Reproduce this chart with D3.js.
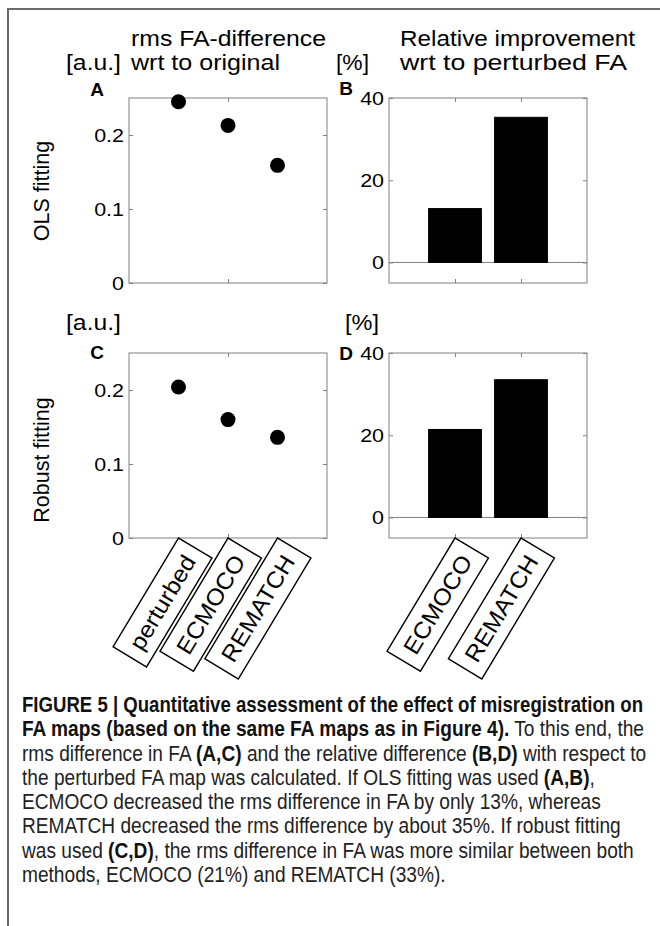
<!DOCTYPE html>
<html><head><meta charset="utf-8">
<script src="https://cdn.jsdelivr.net/npm/d3@7"></script>
<style>
html,body{margin:0;padding:0;background:#fff;}
svg{display:block;}
text{font-family:"Liberation Sans",Arial,Helvetica,sans-serif;white-space:pre;}
</style></head><body>
<svg id="fig" width="660" height="926"></svg>
<script>
// ---------------- data ----------------
const methodsRms = ["perturbed", "ECMOCO", "REMATCH"];
const rmsOLS = [0.245, 0.213, 0.159];
const rmsRobust = [0.204, 0.160, 0.136];
const methodsImp = ["ECMOCO", "REMATCH"];
const impOLS = [13.1, 35.3];
const impRobust = [21.4, 33.5];
const rmsTicks = [0, 0.1, 0.2];
const rmsTickLabels = ["0", "0.1", "0.2"];
const impTicks = [0, 20, 40];
const impTickLabels = ["0", "20", "40"];
const rowNames = ["OLS fitting", "Robust fitting"];
const panelLetters = ["A", "B", "C", "D"];
const titleRms = ["rms FA-difference", "wrt to original"];
const titleImp = ["Relative improvement", "wrt to perturbed FA"];
const unitRms = "[a.u.]";
const unitImp = "[%]";
const captionLines = [
  [["FIGURE 5 | Quantitative assessment of the effect of misregistration on", true]],
  [["FA maps (based on the same FA maps as in Figure 4).", true], [" To this end, the", false]],
  [["rms difference in FA ", false], ["(A,C)", true], [" and the relative difference ", false], ["(B,D)", true], [" with respect to", false]],
  [["the perturbed FA map was calculated. If OLS fitting was used ", false], ["(A,B)", true], [",", false]],
  [["ECMOCO decreased the rms difference in FA by only 13%, whereas", false]],
  [["REMATCH decreased the rms difference by about 35%. If robust fitting", false]],
  [["was used ", false], ["(C,D)", true], [", the rms difference in FA was more similar between both", false]],
  [["methods, ECMOCO (21%) and REMATCH (33%).", false]]
];

// ---------------- layout ----------------
const svg = d3.select("#fig");
const FONT = "Liberation Sans, Arial, Helvetica, sans-serif";
const colX = [[129, 327], [389, 587]];
const rowY = [[98, 283], [353, 538]];
const GREY = "#808080";

function stretch(sel, f) {
  sel.each(function () {
    const w = this.getComputedTextLength();
    this.setAttribute("textLength", w * f);
    this.setAttribute("lengthAdjust", "spacingAndGlyphs");
  });
}
function fixLen(sel, len) {
  sel.attr("textLength", len).attr("lengthAdjust", "spacingAndGlyphs");
}

// frame
svg.append("path").attr("d", "M8,926V9H660").attr("fill", "none")
  .attr("stroke", "#6b6b6b").attr("stroke-width", 2);

const panels = [
  {kind: "dot", col: 0, row: 0, values: rmsOLS, cats: methodsRms},
  {kind: "bar", col: 1, row: 0, values: impOLS, cats: methodsImp},
  {kind: "dot", col: 0, row: 1, values: rmsRobust, cats: methodsRms},
  {kind: "bar", col: 1, row: 1, values: impRobust, cats: methodsImp}
];

panels.forEach((p, pi) => {
  const [x0, x1] = colX[p.col];
  const [yt, yb] = rowY[p.row];
  const isDot = p.kind === "dot";
  const x = d3.scaleLinear().domain(isDot ? [0, 4] : [0, 3]).range([x0, x1]);
  const y = d3.scaleLinear().domain(isDot ? [0, 0.25] : [-5, 40]).range([yb, yt]);
  const ticks = isDot ? rmsTicks : impTicks;
  const tlabels = isDot ? rmsTickLabels : impTickLabels;
  const xt = isDot ? [2] : [1, 2];
  const g = svg.append("g");

  if (!isDot) {
    g.append("line").attr("x1", x0).attr("x2", x1).attr("y1", y(0)).attr("y2", y(0))
      .attr("stroke", GREY).attr("stroke-width", 1);
    g.selectAll("rect.bar").data(p.values).join("rect").attr("class", "bar")
      .attr("x", (d, i) => x(i + 1 - 0.4)).attr("width", x(0.8) - x(0))
      .attr("y", d => y(d)).attr("height", d => y(0) - y(d))
      .attr("fill", "#000").attr("stroke", "#000").attr("stroke-width", 1);
  }

  const styleAx = (ga) => {
    ga.select(".domain").remove();
    ga.attr("font-size", 19).attr("font-family", FONT);
    ga.selectAll("line").attr("stroke", GREY);
    ga.selectAll("text").attr("fill", "#000");
  };
  const gl = g.append("g").attr("transform", `translate(${x0},0)`)
    .call(d3.axisLeft(y).tickValues(ticks).tickFormat((d, i) => tlabels[i]).tickSize(-4).tickPadding(5));
  styleAx(gl);
  stretch(gl.selectAll("text"), 1.13);
  const gr = g.append("g").attr("transform", `translate(${x1},0)`)
    .call(d3.axisRight(y).tickValues(ticks).tickFormat("").tickSize(-4));
  styleAx(gr);
  const gtop = g.append("g").attr("transform", `translate(0,${yt})`)
    .call(d3.axisTop(x).tickValues(xt).tickFormat("").tickSize(-4));
  styleAx(gtop);
  const gbot = g.append("g").attr("transform", `translate(0,${yb})`)
    .call(d3.axisBottom(x).tickValues(xt).tickFormat("").tickSize(-4));
  styleAx(gbot);

  g.append("rect").attr("x", x0).attr("y", yt).attr("width", x1 - x0).attr("height", yb - yt)
    .attr("fill", "none").attr("stroke", GREY).attr("stroke-width", 1);

  if (isDot) {
    g.selectAll("circle").data(p.values).join("circle")
      .attr("cx", (d, i) => x(i + 1)).attr("cy", d => y(d)).attr("r", 7.5).attr("fill", "#000");
  }

  const letterX = isDot ? 97 : 346;
  const letterY = p.row === 0 ? (isDot ? 96 : 95) : (isDot ? 359 : 360);
  svg.append("text").attr("x", letterX).attr("y", letterY).attr("text-anchor", "middle")
    .attr("font-size", 19).attr("font-weight", "bold").attr("fill", "#000").text(panelLetters[pi]);

  if (p.row === 1) {
    const lens = isDot ? [106, 111, 120] : [111, 120];
    p.cats.forEach((c, i) => {
      const L = lens[i] + 21, Hh = 39;
      const lg = svg.append("g")
        .attr("transform", `translate(${x(i + 1)},${yb}) rotate(-59)`);
      lg.append("rect").attr("x", -L).attr("y", 0).attr("width", L).attr("height", Hh)
        .attr("fill", "#fff").attr("stroke", "#000").attr("stroke-width", 1.4);
      const t = lg.append("text").attr("x", -L / 2).attr("y", Hh / 2)
        .attr("text-anchor", "middle").attr("dominant-baseline", "central")
        .attr("font-size", 23).attr("fill", "#000").text(c);
      fixLen(t, lens[i]);
    });
  }
});

// column titles and units
const tA = svg.append("g").attr("font-size", 21.5).attr("fill", "#000");
fixLen(tA.append("text").attr("x", 131).attr("y", 46).text(titleRms[0]), 195);
fixLen(tA.append("text").attr("x", 131).attr("y", 70).text(titleRms[1]), 149);
fixLen(tA.append("text").attr("x", 400).attr("y", 46).text(titleImp[0]), 235);
fixLen(tA.append("text").attr("x", 400).attr("y", 70).text(titleImp[1]), 227);
fixLen(tA.append("text").attr("x", 66).attr("y", 70).text(unitRms), 55);
fixLen(tA.append("text").attr("x", 336).attr("y", 70).text(unitImp), 33);
fixLen(tA.append("text").attr("x", 66).attr("y", 330).text(unitRms), 55);
fixLen(tA.append("text").attr("x", 345).attr("y", 330).text(unitImp), 34);

// row labels
const rowCenters = [191, 460];
rowNames.forEach((r, i) => {
  svg.append("text").attr("transform", `translate(49,${rowCenters[i]}) rotate(-90)`)
    .attr("text-anchor", "middle").attr("font-size", 21.5).attr("fill", "#000").text(r);
});

// caption (condensed look: horizontally compressed group)
const SQ = 0.86;
const cap = svg.append("g").attr("transform", `translate(22,0) scale(${SQ},1)`)
  .attr("font-size", 20);
const capTexts = captionLines.map((segs, i) => {
  const t = cap.append("text").attr("x", 0).attr("y", 712 + i * 24.3);
  segs.forEach(([s, b]) => {
    t.append("tspan").attr("font-weight", b ? "bold" : "normal")
      .attr("fill", b ? "#111" : "#222").text(s);
  });
  return t;
});
const w3 = capTexts[2].node().getComputedTextLength();
const fs = 20 * (624 / SQ) / w3;
cap.attr("font-size", fs);
capTexts[0].attr("textLength", 621 / SQ).attr("lengthAdjust", "spacingAndGlyphs");
</script>
</body></html>
